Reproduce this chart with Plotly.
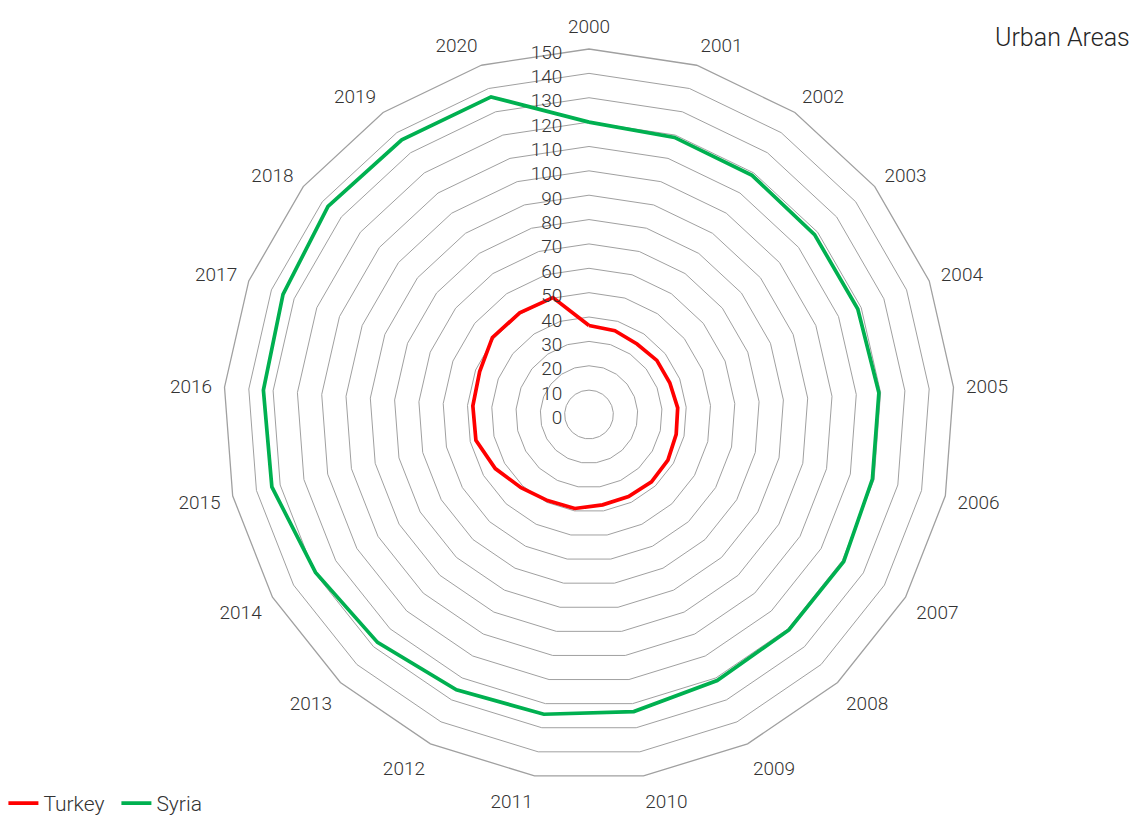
import plotly.graph_objects as go

years = [str(y) for y in range(2000, 2021)]
turkey = [36.5, 36.0, 35.0, 35.6, 35.6, 36.5, 36.7, 37.4, 37.7, 37.4, 37.5,
          39.0, 39.2, 41.0, 44.4, 47.6, 47.8, 48.2, 50.7, 50.5, 50.2]
syria = [120.0, 119.0, 118.8, 118.4, 118.5, 119.3, 119.3, 120.7, 120.6, 121.2, 123.3,
         124.4, 125.4, 127.6, 129.6, 133.5, 134.0, 134.9, 137.0, 136.4, 136.4]
radial_ticks = list(range(0, 151, 10))

FONT = "Roboto"
TEXT = "#333333"
GRID = "#A0A0A0"

fig = go.Figure()

def closed(v):
    return v + v[:1]

fig.add_trace(go.Scatterpolar(
    r=closed(turkey), theta=closed(years), mode="lines", name="Turkey",
    line=dict(color="#FF0000", width=3.7),
))
fig.add_trace(go.Scatterpolar(
    r=closed(syria), theta=closed(years), mode="lines", name="Syria",
    line=dict(color="#00B050", width=3.7),
))

W, H = 1137, 824
cx, cy, R = 589, 414.5, 365.5

fig.update_layout(
    width=W, height=H,
    margin=dict(l=0, r=0, t=0, b=0),
    paper_bgcolor="white",
    plot_bgcolor="white",
    font=dict(family=FONT, color=TEXT, size=18, weight=300),
    polar=dict(
        domain=dict(x=[(cx - R) / W, (cx + R) / W],
                    y=[1 - (cy + R) / H, 1 - (cy - R) / H]),
        bgcolor="white",
        gridshape="linear",
        radialaxis=dict(
            range=[0, 150], tickvals=radial_ticks,
            angle=90, side="counterclockwise",
            showline=False,
            ticks="outside", ticklen=9, tickcolor="rgba(0,0,0,0)",
            gridcolor=GRID, gridwidth=1.3,
            tickfont=dict(family=FONT, size=19, color=TEXT, weight=300),
        ),
        angularaxis=dict(
            rotation=90, direction="clockwise",
            showgrid=False, showline=True, linecolor=GRID, linewidth=1.3,
            ticks="outside", ticklen=8, tickcolor="rgba(0,0,0,0)",
            tickfont=dict(family=FONT, size=19, color=TEXT, weight=300),
        ),
    ),
    legend=dict(
        orientation="h", x=0.003, y=0, xanchor="left", yanchor="bottom",
        font=dict(family=FONT, size=21, color=TEXT, weight=300),
        itemwidth=30, tracegroupgap=0, entrywidth=68,
    ),
    annotations=[dict(
        text="Urban Areas", x=1132 / W, y=1 - 37 / H, xref="paper", yref="paper",
        xanchor="right", yanchor="middle", showarrow=False,
        font=dict(family=FONT, size=25, color="#262626", weight=300),
    )],
)

fig.write_html("out.html")
